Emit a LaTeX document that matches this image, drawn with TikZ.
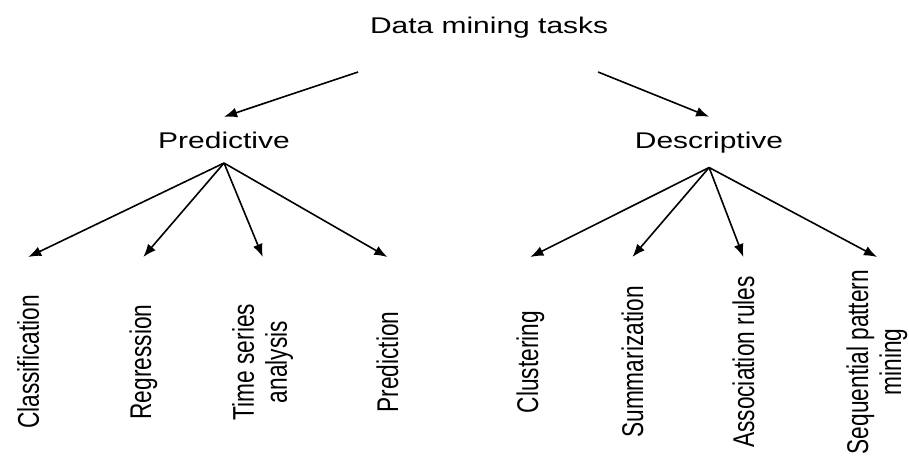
\documentclass[tikz,border=0pt]{standalone}
\usepackage{fontspec}
\setmainfont{Liberation Sans}
\usetikzlibrary{arrows.meta}

\begin{document}
\begin{tikzpicture}[x=1pt,y=-1pt,xscale=1.32,line width=1.6pt,
  >={Latex[length=13pt,width=10pt]},
  every node/.style={transform shape,font=\fontsize{22.7}{25}\selectfont},
  head/.style={anchor=base},
  mid/.style={anchor=base,inner ysep=14pt},
  leaf/.style={rotate=90,anchor=base,align=center}]
\useasboundingbox (0,0) rectangle (688.6,457);
\node[head] (dmt)  at (370.5,34)  {Data mining tasks};
\node[mid]  (pred) at (169.7,148) {Predictive};
\node[mid]  (desc) at (537.1,148) {Descriptive};
\coordinate (pstart) at (271.2,72);
\coordinate (dstart) at (453,72);
\coordinate (tips)   at (0,257);
% leaves, text running upwards (base = last line)
\node[leaf] (cls) at (29.5,362)  {Classification};
\node[leaf] (reg) at (114.4,362) {Regression};
\node[leaf] (tsa) at (217.4,362) {Time series\\analysis};
\node[leaf] (prd) at (301.5,362) {Prediction};
\node[leaf] (clu) at (407.6,362) {Clustering};
\node[leaf] (sum) at (487.1,362) {Summarization};
\node[leaf] (ass) at (571.2,362) {Association rules};
\node[leaf] (seq) at (682.6,362) {Sequential pattern\\mining};
\draw[->] (pstart) -- (pred.north);
\draw[->] (dstart) -- (desc.north);
\foreach \n in {cls,reg,tsa,prd} \draw[->] (pred.south) -- (\n |- tips);
\foreach \n in {clu,sum,ass,seq} \draw[->] (desc.south) -- (\n |- tips);
\end{tikzpicture}
\end{document}
